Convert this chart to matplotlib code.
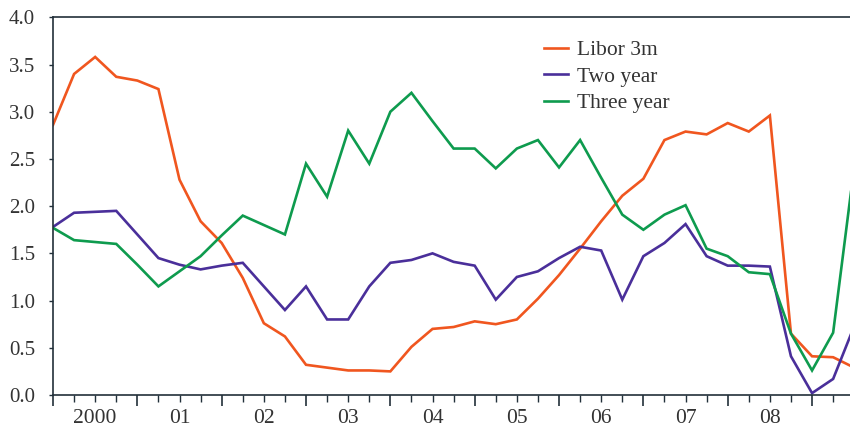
import matplotlib
matplotlib.use("Agg")
import matplotlib.pyplot as plt
from matplotlib.ticker import FixedLocator, NullFormatter

plt.rcParams['font.family'] = ['Liberation Serif', 'DejaVu Serif']

year_labels = ["2000", "01", "02", "03", "04", "05", "06", "07", "08"]

libor_3m = [2.86, 3.40, 3.58, 3.37, 3.33, 3.24, 2.28, 1.84, 1.61, 1.24,
            0.76, 0.62, 0.32, 0.29, 0.26, 0.26, 0.25, 0.51, 0.70, 0.72,
            0.78, 0.75, 0.80, 1.02, 1.27, 1.55, 1.84, 2.11, 2.29, 2.70,
            2.79, 2.76, 2.88, 2.79, 2.96, 0.65, 0.41, 0.40, 0.29]
two_year = [1.78, 1.93, 1.94, 1.95, 1.70, 1.45, 1.38, 1.33, 1.37, 1.40,
            1.15, 0.90, 1.15, 0.80, 0.80, 1.15, 1.40, 1.43, 1.50, 1.41,
            1.37, 1.01, 1.25, 1.31, 1.45, 1.57, 1.53, 1.01, 1.47, 1.61,
            1.81, 1.47, 1.37, 1.37, 1.36, 0.41, 0.02, 0.17, 0.73]
three_year = [1.77, 1.64, 1.62, 1.60, 1.38, 1.15, 1.31, 1.47, 1.69, 1.90,
              1.80, 1.70, 2.45, 2.10, 2.80, 2.45, 3.00, 3.20, 2.90, 2.61,
              2.61, 2.40, 2.61, 2.70, 2.41, 2.70, 2.30, 1.91, 1.75, 1.91,
              2.01, 1.55, 1.47, 1.30, 1.28, 0.65, 0.26, 0.66, 2.42]

series_names = ["Libor 3m", "Two year", "Three year"]
colors = ["#f0561f", "#4a2f9a", "#0e9b4e"]
text_col = "#333333"
fs = 15.5

fig = plt.figure(figsize=(8.5, 4.28), dpi=100)
ax = fig.add_axes([53/850, 1 - 395/428, 1 - 53/850, (395 - 17.3)/428])

x = list(range(len(libor_3m)))
for vals, name, c in zip([libor_3m, two_year, three_year], series_names, colors):
    ax.plot(x, vals, color=c, lw=1.9, label=name, solid_joinstyle='miter')

ax.set_xlim(0, 37.8)
ax.set_ylim(0, 4.0)
yt = [0.0, 0.5, 1.0, 1.5, 2.0, 2.5, 3.0, 3.5, 4.0]
ax.set_yticks(yt)
ax.set_yticklabels([f"{v:.1f}" for v in yt])

spine_col = "#22303a"
for s in ["left", "bottom", "top"]:
    ax.spines[s].set_color(spine_col)
    ax.spines[s].set_linewidth(1.2)
ax.spines["right"].set_visible(False)

ax.xaxis.set_major_locator(FixedLocator(list(range(0, 37, 4))))
ax.xaxis.set_minor_locator(FixedLocator([i for i in range(0, 38) if i % 4 != 0]))
ax.xaxis.set_major_formatter(NullFormatter())
ax.tick_params(axis='x', which='major', length=8, width=1.2, color=spine_col, direction='out')
ax.tick_params(axis='x', which='minor', length=5, width=1.0, color=spine_col, direction='out')
ax.tick_params(axis='y', which='major', length=3, width=1.0, color=spine_col, direction='out',
               labelsize=fs - 0.5, labelcolor=text_col, pad=10)

for k, lab in enumerate(year_labels):
    ax.annotate(lab, xy=(2 + 4 * k, 0), xycoords=('data', 'axes fraction'),
                xytext=(0, -20), textcoords='offset points', ha='center', va='baseline',
                fontsize=fs, color=text_col)

leg = fig.legend(loc='upper left', bbox_to_anchor=(544/850, 1 - 40/428), frameon=False,
                 fontsize=fs, handlelength=1.1, handletextpad=0.45, labelspacing=0.3,
                 borderpad=0, borderaxespad=0)
for t in leg.get_texts():
    t.set_color(text_col)

fig.savefig("out.png", dpi=100)
